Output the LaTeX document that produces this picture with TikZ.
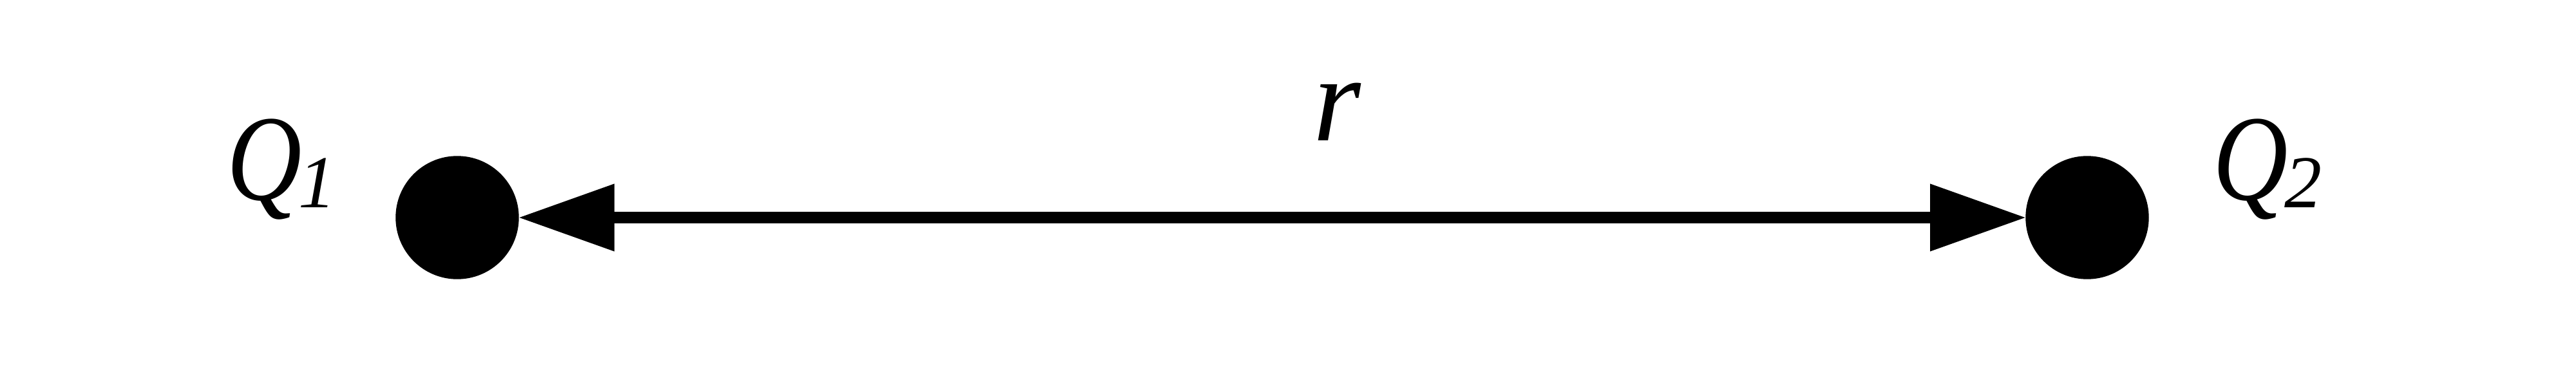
\documentclass[tikz,border=0pt]{standalone}
\usepackage{fontspec}
\setmainfont{Liberation Serif}
\usetikzlibrary{arrows.meta}
\newcommand{\chargelbl}[1]{\scalebox{0.85}[1]{\textit{Q}}\kern-0.06cm\raisebox{-0.12cm}{\fontsize{33}{36}\selectfont\textit{#1}}}
\begin{document}
\begin{tikzpicture}[charge/.style={draw,circle,minimum size=1.9cm,inner sep=0pt,outer sep=0pt,fill=black},
    lbl/.style={inner sep=0pt,font=\fontsize{54}{60}\selectfont}]
    \useasboundingbox (0,0) rectangle (40,5.94);

    \node[charge] (q1) at (7.10,2.56) {};
    \node[charge] (q2) at (32.41,2.56) {};

    \draw[line width=0.18cm, {Triangle[length=1.49cm,width=1.0cm]}-{Triangle[length=1.49cm,width=1.0cm]}] (q1) -- (q2);

    \node[lbl, anchor=base west] (lq1) at (3.52,2.84) {\chargelbl{1}};
    \node[lbl, anchor=base west] (lq2) at (34.36,2.84) {\chargelbl{2}};
    \node[lbl, anchor=base] (lr) at (20.77,3.76) {\textit{r}};
  \end{tikzpicture}
\end{document}
